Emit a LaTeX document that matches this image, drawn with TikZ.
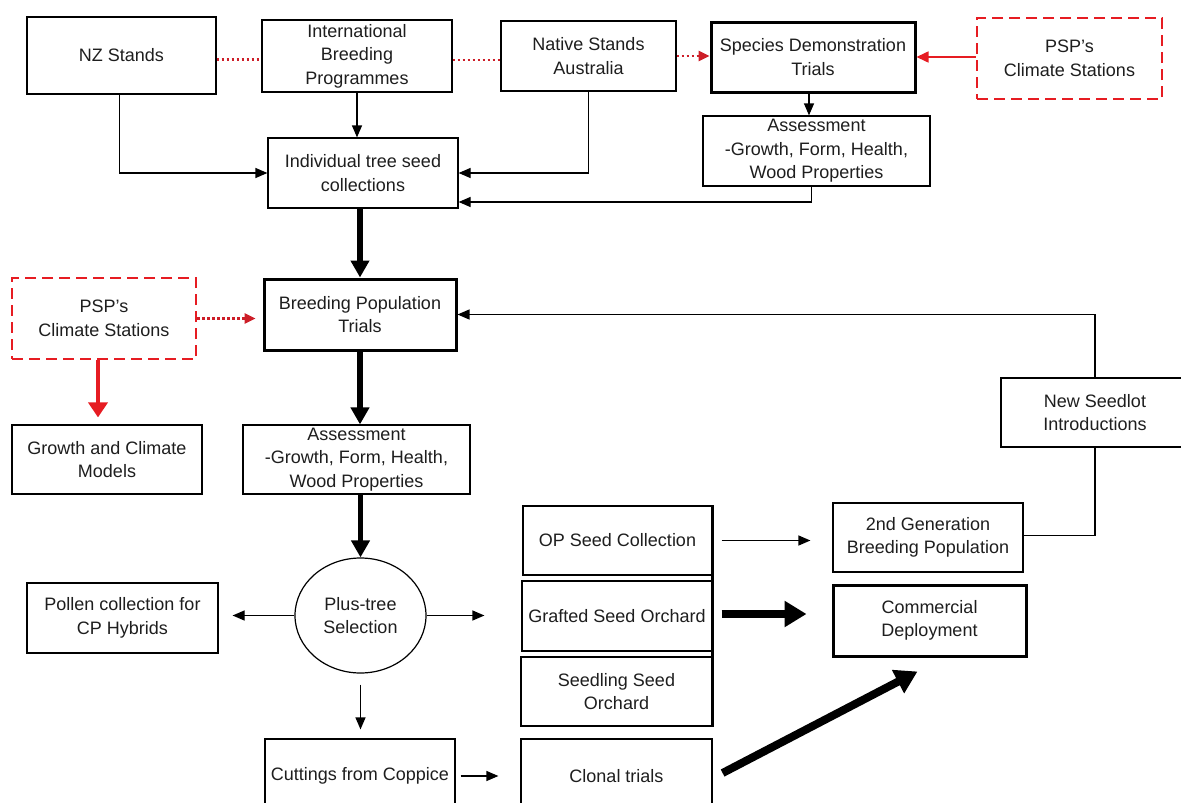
\documentclass[tikz,border=0pt]{standalone}
\usepackage{fontspec}
\setmainfont{Liberation Sans}
\usetikzlibrary{arrows.meta,shapes.geometric}
\definecolor{rd}{RGB}{230,28,34}
\definecolor{rdot}{RGB}{205,30,40}
\definecolor{txt}{RGB}{30,30,30}
\newcommand{\boxfont}{\fontsize{18}{23.5}\selectfont}
\tikzset{
  box/.style={draw, line width=1.2pt, inner sep=0pt, align=center, font=\boxfont, text=txt, fill=white},
  tbox/.style={box, line width=3pt},
  rbox/.style={box, draw=rd, line width=2.5pt, dash pattern=on 11pt off 6pt},
  arr/.style={-{Triangle[length=12pt,width=10pt]}, line width=1.2pt},
  tarr/.style={-{Triangle[length=17pt,width=18pt]}, line width=5.5pt},
  barr/.style={-{Triangle[length=22pt,width=25pt]}, line width=8pt},
  rdotted/.style={draw=rdot, line width=2.5pt, dash pattern=on 2.5pt off 2.5pt},
  rarr/.style={draw=rd, -{Triangle[length=12pt,width=11pt]}, line width=1.6pt},
  rtarr/.style={draw=rd, -{Triangle[length=15pt,width=19pt]}, line width=4pt}
}
\begin{document}
\begin{tikzpicture}[x=1pt,y=-1pt]
\useasboundingbox (0,0) rectangle (1181,803);
\clip (0,0) rectangle (1181,803);
% top row
\node[box, minimum width=189pt, minimum height=77pt] (nz) at (121.5,55.5) {NZ Stands};
\node[box, minimum width=190pt, minimum height=72pt] (ibp) at (357,56) {International\\Breeding\\Programmes};
\node[box, minimum width=175pt, minimum height=70pt] (nsa) at (588.5,56) {Native Stands\\Australia};
\node[tbox, minimum width=204pt, minimum height=70pt] (sdt) at (813,57) {Species Demonstration\\Trials};
\node[rbox, minimum width=185pt, minimum height=81pt] (psp1) at (1069.5,58.5) {PSP's\\Climate Stations};
\node[box, minimum width=227pt, minimum height=70pt] (ass1) at (816.5,151) {Assessment\\-Growth, Form, Health,\\Wood Properties};
\node[box, minimum width=190pt, minimum height=70pt] (itsc) at (363,173) {Individual tree seed\\collections};
% middle
\node[tbox, minimum width=192pt, minimum height=71pt] (bpt) at (360,314.5) {Breeding Population\\Trials};
\node[rbox, minimum width=184pt, minimum height=81pt] (psp2) at (104,318.5) {PSP's\\Climate Stations};
\node[box, minimum width=190pt, minimum height=69pt] (gcm) at (107,459.5) {Growth and Climate\\Models};
\node[box, minimum width=227pt, minimum height=69pt] (ass2) at (356.5,459.5) {Assessment\\-Growth, Form, Health,\\Wood Properties};
\node[box, minimum width=188pt, minimum height=69pt] (nsi) at (1095,412.5) {New Seedlot\\Introductions};
\node[box, minimum width=190pt, minimum height=69pt] (gen2) at (928,537.5) {2nd Generation\\Breeding Population};
\node[tbox, minimum width=193pt, minimum height=71pt] (cd) at (929.5,620.5) {Commercial\\Deployment};
% lower
\node[box, minimum width=189pt, minimum height=69pt] (op) at (617.5,540.5) {OP Seed Collection};
\node[box, minimum width=190pt, minimum height=70pt] (gso) at (617,616) {Grafted Seed Orchard};
\node[box, minimum width=191pt, minimum height=69pt] (sso) at (616.5,691.5) {Seedling Seed\\Orchard};
\node[box, minimum width=191pt, minimum height=74pt] (ct) at (616.5,776) {Clonal trials};
\node[box, minimum width=190pt, minimum height=74pt] (cfc) at (360,776) {Cuttings from Coppice};
\node[box, ellipse, minimum width=131pt, minimum height=115pt] (pts) at (360.5,615.5) {Plus-tree\\Selection};
\node[box, minimum width=191pt, minimum height=70pt] (pol) at (122.5,618) {Pollen collection for\\CP Hybrids};
% thick right edge of orchard group
\draw[line width=3.5pt] (op.north east) -- (sso.south east);
% red connectors
\draw[rdotted] ([yshift=-4pt]nz.east) -- ([yshift=-4pt]nz.east -| ibp.west);
\draw[rdotted] ([yshift=-4pt]ibp.east) -- ([yshift=-4pt]ibp.east -| nsa.west);
\draw[rdotted, -{Triangle[length=11pt,width=10pt]}] (nsa.east) -- (nsa.east -| sdt.west);
\draw[rarr] (psp1.west |- sdt.east) -- (sdt.east);
\draw[rdotted, -{Triangle[length=11pt,width=10pt]}, shorten >=7pt] (psp2.east) -- (psp2.east -| bpt.west);
\draw[rtarr, shorten >=7pt] ([xshift=-6pt]psp2.south) -- ([xshift=-6pt]psp2.south |- gcm.north);
% black thin connectors
\draw[arr] ([xshift=-2pt]nz.south) |- (itsc.west);
\draw[arr] (ibp.south) -- (ibp.south |- itsc.north);
\draw[arr] (nsa.south) |- (itsc.east);
\draw[arr] ([xshift=-4pt]sdt.south) -- ([xshift=-4pt]sdt.south |- ass1.north);
\draw[arr] ([xshift=-5pt]ass1.south) |- ([yshift=-29pt]itsc.east);
\draw[arr] (nsi.north) |- (bpt.east);
\draw[line width=1.2pt] ([yshift=2pt]gen2.east) -| (nsi.south);
% thick vertical chain
\draw[tarr] (bpt.north |- itsc.south) -- (bpt.north);
\draw[tarr] (bpt.south) -- (bpt.south |- ass2.north);
\draw[tarr] (pts.north |- ass2.south) -- (pts.north);
% plus-tree arrows
\draw[arr, shorten >=14pt] (pts.west) -- (pts.west -| pol.east);
\draw[arr, shorten >=37pt] (pts.east) -- (pts.east -| gso.west);
\draw[arr, shorten <=11pt, shorten >=9pt] (pts.south) -- (pts.south |- cfc.north);
\draw[arr, shorten <=5pt, shorten >=22pt] (cfc.east) -- (cfc.east -| ct.west);
\draw[arr, shorten <=9pt, shorten >=22pt] (op.east) -- (op.east -| gen2.west);
\draw[barr, shorten <=9pt, shorten >=25pt] ([yshift=2pt]gso.east) -- ([yshift=2pt]gso.east -| cd.west);
\draw[barr] ([xshift=10pt,yshift=3pt]ct.east) -- ([xshift=-12pt,yshift=-14pt]cd.south);
\end{tikzpicture}
\end{document}
